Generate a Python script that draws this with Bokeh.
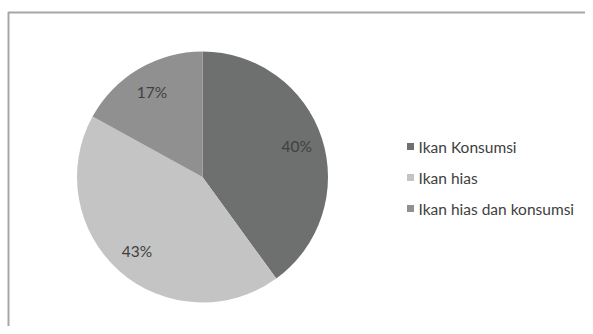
import math
from bokeh.plotting import figure
from bokeh.models import Range1d, ColumnDataSource
from bokeh.core.properties import value
from bokeh.embed import file_html
from bokeh.resources import INLINE

categories = ["Ikan Konsumsi", "Ikan hias", "Ikan hias dan konsumsi"]
shares = [40, 43, 17]
colors = ["#6e6f6f", "#c4c4c4", "#909090"]

W, H = 585, 326
p = figure(width=W, height=H, output_backend="svg", toolbar_location=None,
           x_range=Range1d(0, W), y_range=Range1d(0, H), min_border=0)
p.axis.visible = False
p.grid.visible = False
p.outline_line_color = None
p.background_fill_color = "white"

# frame lines (chart area border, cropped on right/bottom)
p.line(x=[8, 8, W], y=[0, H - 12, H - 12], line_color="#a6a6a6", line_width=2)

cx, cy, r = 202, H - 176.5, 125.5
total = float(sum(shares))
starts, ends, lx, ly, labels = [], [], [], [], []
cum = 0.0
for s in shares:
    a0 = math.pi / 2 - 2 * math.pi * cum / total
    cum += s
    a1 = math.pi / 2 - 2 * math.pi * cum / total
    starts.append(a0)
    ends.append(a1)
    mid = (a0 + a1) / 2
    lx.append(cx + 0.79 * r * math.cos(mid))
    ly.append(cy + 0.79 * r * math.sin(mid))
    labels.append(f"{s}%")

src = ColumnDataSource(dict(start=starts, end=ends, color=colors))
p.wedge(x=cx, y=cy, radius=r, start_angle="start", end_angle="end",
        direction="clock", fill_color="color", line_color=None, source=src)

p.text(x=lx, y=ly, text=labels, text_align="center", text_baseline="middle",
       text_font=value("Lato"), text_font_size="15.5px", text_color="#404040")

# legend
lgx, lgy0, step = 410, H - 146, 31
ys = [lgy0 - i * step for i in range(len(categories))]
p.scatter(x=[lgx] * len(categories), y=ys, marker="square", size=7,
          fill_color=colors, line_color=None)
p.text(x=[lgx + 8] * len(categories), y=ys, text=categories, text_align="left",
       text_baseline="middle", text_font=value("Lato"), text_font_size="15.5px",
       text_color="#404040")

open("out.html", "w").write(file_html(p, INLINE))
